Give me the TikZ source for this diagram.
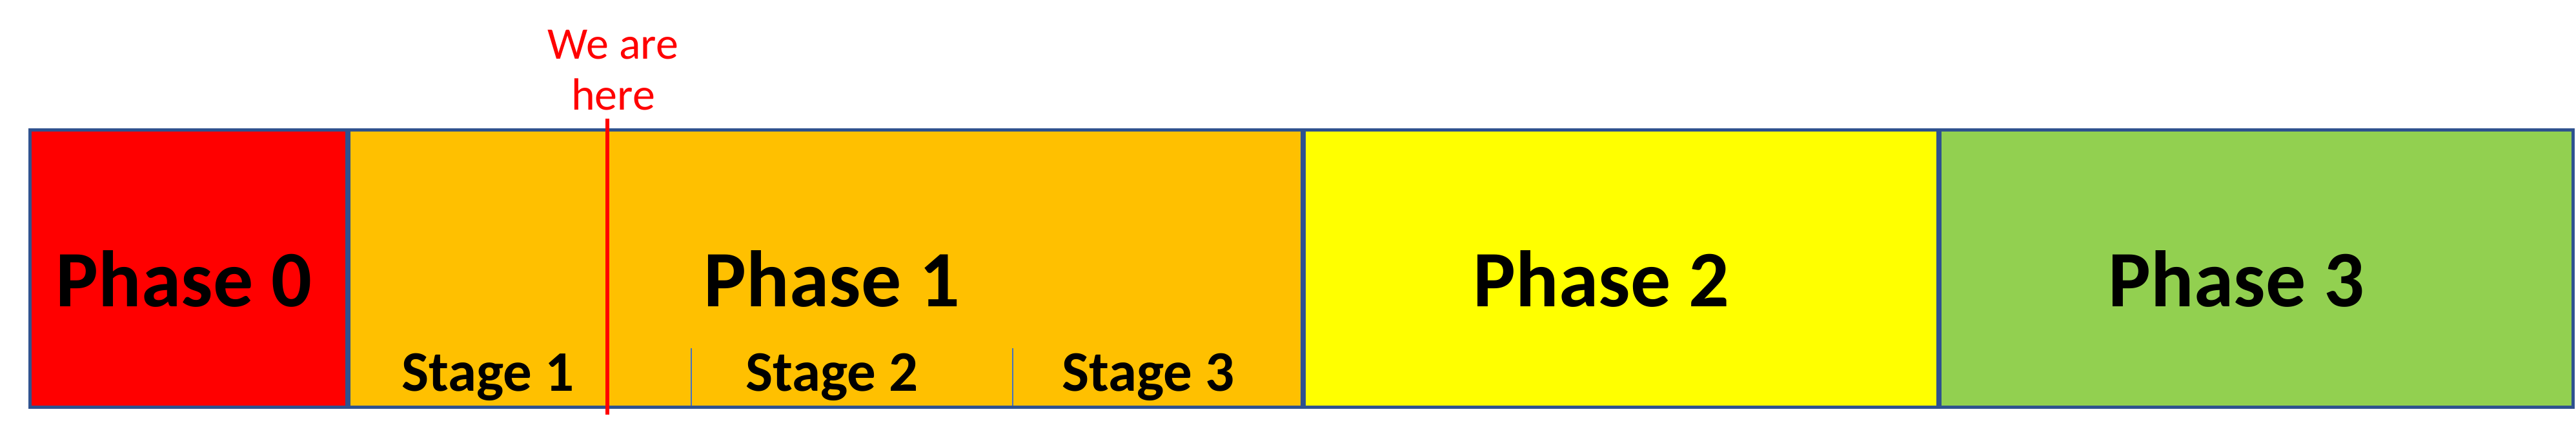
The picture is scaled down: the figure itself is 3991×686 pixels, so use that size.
\documentclass[tikz,border=0pt]{standalone}
\usepackage{fontspec}
\setmainfont{Carlito}
\definecolor{pzero}{HTML}{FF0000}
\definecolor{pone}{HTML}{FFC000}
\definecolor{ptwo}{HTML}{FFFF00}
\definecolor{pthree}{HTML}{92D050}
\definecolor{frameblue}{HTML}{2F528F}
\definecolor{stageblue}{HTML}{4472C4}
\definecolor{herered}{HTML}{FF0000}
\tikzset{
  frameline/.style={draw=frameblue, line width=0.5pt},
  divline/.style={draw=frameblue, line width=0.85pt},
  stagediv/.style={draw=stageblue, line width=0.2pt},
  phaselabel/.style={anchor=base, inner sep=0pt, font=\fontsize{12.4}{14}\selectfont\bfseries},
  stagelabel/.style={anchor=base, inner sep=0pt, font=\fontsize{8.9}{10}\selectfont\bfseries},
  herelabel/.style={anchor=base, inner sep=0pt, text=herered, font=\fontsize{7}{8}\selectfont},
  hereline/.style={draw=herered, line width=0.6pt}
}
\begin{document}
\begin{tikzpicture}[x=0.1pt,y=-0.1pt]
\useasboundingbox (0,0) rectangle (3991,686);
% phase fills
\fill[pzero]  (46,201) rectangle (539,631);
\fill[pone]   (539,201) rectangle (2019,631);
\fill[ptwo]   (2019,201) rectangle (3004,631);
\fill[pthree] (3004,201) rectangle (3986,631);
% stage dividers
\draw[stagediv] (1071,540) -- (1071,631);
\draw[stagediv] (1569,540) -- (1569,631);
% phase dividers
\draw[divline] (539,201) -- (539,631);
\draw[divline] (2019,201) -- (2019,631);
\draw[divline] (3004,201) -- (3004,631);
% outer frame
\draw[frameline] (46,201) rectangle (3986,631);
% labels
\node[phaselabel] (ph0) at (285,475) {Phase 0};
\node[phaselabel] (ph1) at (1289,475) {Phase 1};
\node[phaselabel] (ph2) at (2481,475) {Phase 2};
\node[phaselabel] (ph3) at (3465,475) {Phase 3};
\node[stagelabel] (st1) at (756,606) {Stage 1};
\node[stagelabel] (st2) at (1289,606) {Stage 2};
\node[stagelabel] (st3) at (1779,606) {Stage 3};
% we are here
\node[herelabel] (weare) at (950,91) {We are};
\node[herelabel] (here) at (950,170) {here};
\coordinate (htop) at (941,184);
\coordinate (hbot) at (941,643);
\draw[hereline] (htop) -- (hbot);
\end{tikzpicture}
\end{document}
